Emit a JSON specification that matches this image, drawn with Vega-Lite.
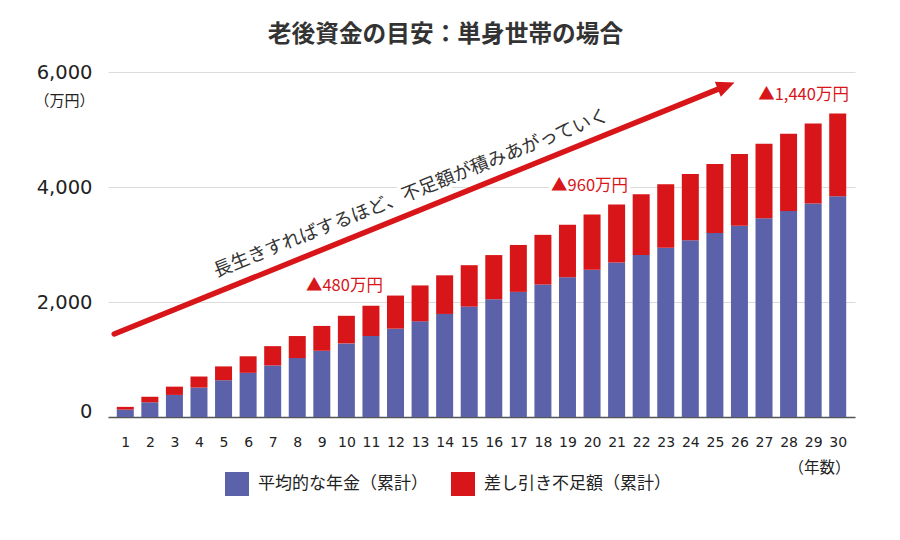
{
  "$schema": "https://vega.github.io/schema/vega-lite/v6.json",
  "width": 747,
  "height": 345,
  "autosize": {"type": "none"},
  "padding": {"left": 108, "top": 72, "right": 45, "bottom": 123},
  "background": "white",
  "config": {
    "view": {"stroke": null},
    "font": "Noto Sans CJK JP",
    "axisX": {"labelOverlap": false, "labelBound": false, "labelSeparation": 0}
  },
  "title": {
    "text": "老後資金の目安：単身世帯の場合",
    "font": "Noto Sans CJK JP",
    "fontSize": 23.7,
    "fontWeight": "bold",
    "color": "#333333",
    "anchor": "middle",
    "frame": "group",
    "baseline": "bottom",
    "dx": -36,
    "dy": 25,
    "offset": 16
  },
  "datasets": {
    "bars": [
      {"year": 1, "平均的な年金（累計）": 128, "差し引き不足額（累計）": 48},
      {"year": 2, "平均的な年金（累計）": 256, "差し引き不足額（累計）": 96},
      {"year": 3, "平均的な年金（累計）": 384, "差し引き不足額（累計）": 144},
      {"year": 4, "平均的な年金（累計）": 512, "差し引き不足額（累計）": 192},
      {"year": 5, "平均的な年金（累計）": 640, "差し引き不足額（累計）": 240},
      {"year": 6, "平均的な年金（累計）": 768, "差し引き不足額（累計）": 288},
      {"year": 7, "平均的な年金（累計）": 896, "差し引き不足額（累計）": 336},
      {"year": 8, "平均的な年金（累計）": 1024, "差し引き不足額（累計）": 384},
      {"year": 9, "平均的な年金（累計）": 1152, "差し引き不足額（累計）": 432},
      {"year": 10, "平均的な年金（累計）": 1280, "差し引き不足額（累計）": 480},
      {"year": 11, "平均的な年金（累計）": 1408, "差し引き不足額（累計）": 528},
      {"year": 12, "平均的な年金（累計）": 1536, "差し引き不足額（累計）": 576},
      {"year": 13, "平均的な年金（累計）": 1664, "差し引き不足額（累計）": 624},
      {"year": 14, "平均的な年金（累計）": 1792, "差し引き不足額（累計）": 672},
      {"year": 15, "平均的な年金（累計）": 1920, "差し引き不足額（累計）": 720},
      {"year": 16, "平均的な年金（累計）": 2048, "差し引き不足額（累計）": 768},
      {"year": 17, "平均的な年金（累計）": 2176, "差し引き不足額（累計）": 816},
      {"year": 18, "平均的な年金（累計）": 2304, "差し引き不足額（累計）": 864},
      {"year": 19, "平均的な年金（累計）": 2432, "差し引き不足額（累計）": 912},
      {"year": 20, "平均的な年金（累計）": 2560, "差し引き不足額（累計）": 960},
      {"year": 21, "平均的な年金（累計）": 2688, "差し引き不足額（累計）": 1008},
      {"year": 22, "平均的な年金（累計）": 2816, "差し引き不足額（累計）": 1056},
      {"year": 23, "平均的な年金（累計）": 2944, "差し引き不足額（累計）": 1104},
      {"year": 24, "平均的な年金（累計）": 3072, "差し引き不足額（累計）": 1152},
      {"year": 25, "平均的な年金（累計）": 3200, "差し引き不足額（累計）": 1200},
      {"year": 26, "平均的な年金（累計）": 3328, "差し引き不足額（累計）": 1248},
      {"year": 27, "平均的な年金（累計）": 3456, "差し引き不足額（累計）": 1296},
      {"year": 28, "平均的な年金（累計）": 3584, "差し引き不足額（累計）": 1344},
      {"year": 29, "平均的な年金（累計）": 3712, "差し引き不足額（累計）": 1392},
      {"year": 30, "平均的な年金（累計）": 3840, "差し引き不足額（累計）": 1440}
    ],
    "arrow": [
      {"x": 0.55, "y": 1443},
      {"x": 25.46, "y": 5758}
    ],
    "head": [
      {"x": 25.46, "y": 5758}
    ],
    "slogan": [
      {"x": 12.63, "y": 3896, "label": "長生きすればするほど、不足額が積みあがっていく"}
    ],
    "notes": [
      {"x": 9.92, "y": 2278, "label": "▲480万円"},
      {"x": 19.9, "y": 4017, "label": "▲960万円"},
      {"x": 28.61, "y": 5600, "label": "▲1,440万円"}
    ]
  },
  "layer": [
    {
      "data": {"name": "bars"},
      "transform": [
        {"fold": ["平均的な年金（累計）", "差し引き不足額（累計）"], "as": ["series", "value"]}
      ],
      "mark": {"type": "bar", "size": 17},
      "encoding": {
        "x": {
          "field": "year",
          "type": "quantitative",
          "scale": {"domain": [0.5, 30.5], "nice": false, "zero": false},
          "axis": {
            "values": [1,2,3,4,5,6,7,8,9,10,11,12,13,14,15,16,17,18,19,20,21,22,23,24,25,26,27,28,29,30],
            "tickCount": 40,
            "grid": false,
            "ticks": false,
            "tickSize": 0,
            "domain": true,
            "domainColor": "#555555",
            "domainWidth": 1.5,
            "labelFont": "DejaVu Sans",
            "labelFontSize": 14,
            "labelColor": "#222222",
            "labelPadding": 18,
            "labelAngle": 0,
            "labelFlush": false,
            "labelOverlap": false,
            "labelSeparation": 0,
            "title": "（年数）",
            "titleFont": "Noto Sans CJK JP",
            "titleFontSize": 15.5,
            "titleFontWeight": "normal",
            "titleColor": "#222222",
            "titleAnchor": "end",
            "titleAlign": "right",
            "titleBaseline": "middle",
            "titleX": 742,
            "titleY": 50
          }
        },
        "y": {
          "field": "value",
          "type": "quantitative",
          "stack": "zero",
          "scale": {"domain": [0, 6000], "nice": false},
          "axis": {
            "values": [0, 2000, 4000, 6000],
            "format": ",.0f",
            "domain": false,
            "ticks": false,
            "tickSize": 0,
            "grid": true,
            "gridColor": "#dcdcdc",
            "gridWidth": 1,
            "labelFont": "DejaVu Sans",
            "labelFontSize": 19.5,
            "labelColor": "#222222",
            "labelPadding": 16,
            "labelBaseline": {"condition": {"test": "datum.value === 0", "value": "alphabetic"}, "value": "middle"},
            "title": "（万円）",
            "titleFont": "Noto Sans CJK JP",
            "titleFontSize": 15,
            "titleFontWeight": "normal",
            "titleColor": "#222222",
            "titleAngle": 0,
            "titleAlign": "right",
            "titleBaseline": "middle",
            "titleX": -14,
            "titleY": 28
          }
        },
        "color": {
          "field": "series",
          "type": "nominal",
          "scale": {
            "domain": ["平均的な年金（累計）", "差し引き不足額（累計）"],
            "range": ["#5b62a9", "#d81519"]
          },
          "legend": {
            "title": null,
            "orient": "none",
            "direction": "horizontal",
            "legendX": 117,
            "legendY": 400,
            "symbolType": "square",
            "symbolSize": 576,
            "symbolStrokeWidth": 0,
            "labelFont": "Noto Sans CJK JP",
            "labelFontSize": 17,
            "labelColor": "#222222",
            "labelOffset": 9,
            "labelLimit": 400,
            "columnPadding": 23
          }
        },
        "order": {"field": "series", "sort": "descending"}
      }
    },
    {
      "data": {"name": "slogan"},
      "mark": {"type": "text", "angle": 338.2, "fontSize": 18.5, "font": "Noto Sans CJK JP", "stroke": "white", "strokeWidth": 7, "strokeJoin": "round", "fill": "white", "align": "center", "baseline": "middle"},
      "encoding": {
        "x": {"field": "x", "type": "quantitative"},
        "y": {"field": "y", "type": "quantitative"},
        "text": {"field": "label"}
      }
    },
    {
      "data": {"name": "notes"},
      "mark": {"type": "text", "fontSize": 16.5, "font": "Noto Sans CJK JP", "stroke": "white", "strokeWidth": 7, "strokeJoin": "round", "fill": "white", "align": "center", "baseline": "middle"},
      "encoding": {
        "x": {"field": "x", "type": "quantitative"},
        "y": {"field": "y", "type": "quantitative"},
        "text": {"field": "label"}
      }
    },
    {
      "data": {"name": "arrow"},
      "mark": {"type": "line", "color": "#d81519", "strokeWidth": 5.5, "strokeCap": "round"},
      "encoding": {
        "x": {"field": "x", "type": "quantitative"},
        "y": {"field": "y", "type": "quantitative"}
      }
    },
    {
      "data": {"name": "head"},
      "mark": {"type": "point", "shape": "M-1,-0.9L1,0L-1,0.9Z", "filled": true, "color": "#d81519", "opacity": 1, "size": 324, "angle": 338.2},
      "encoding": {
        "x": {"field": "x", "type": "quantitative"},
        "y": {"field": "y", "type": "quantitative"}
      }
    },
    {
      "data": {"name": "slogan"},
      "mark": {"type": "text", "angle": 338.2, "fontSize": 18.5, "font": "Noto Sans CJK JP", "color": "#333333", "align": "center", "baseline": "middle"},
      "encoding": {
        "x": {"field": "x", "type": "quantitative"},
        "y": {"field": "y", "type": "quantitative"},
        "text": {"field": "label"}
      }
    },
    {
      "data": {"name": "notes"},
      "mark": {"type": "text", "fontSize": 16.5, "font": "Noto Sans CJK JP", "color": "#d81519", "align": "center", "baseline": "middle"},
      "encoding": {
        "x": {"field": "x", "type": "quantitative"},
        "y": {"field": "y", "type": "quantitative"},
        "text": {"field": "label"}
      }
    }
  ]
}
